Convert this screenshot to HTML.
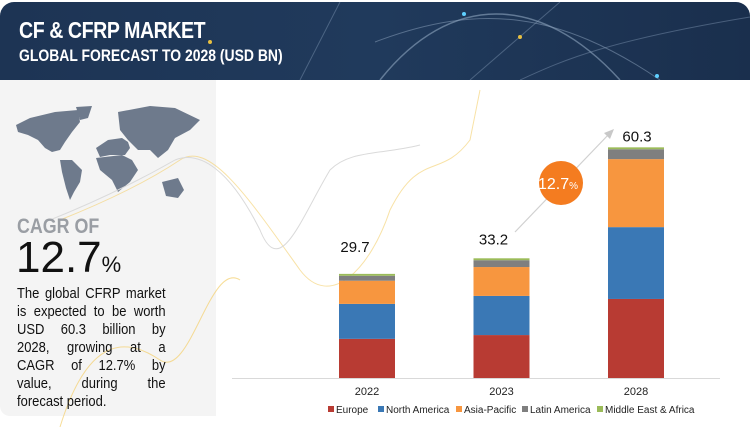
<!DOCTYPE html>
<html><head><meta charset="utf-8">
<style>
body{margin:0;width:750px;height:427px;overflow:hidden;background:#fff;font-family:"Liberation Sans",sans-serif;position:relative}
#hdr{position:absolute;left:0;top:2px;width:750px;height:78px;border-radius:14px 14px 0 0;overflow:hidden;background:linear-gradient(90deg,#1d3454,#203a5c 50%,#1a2f4d)}
.t1{position:absolute;left:19px;top:15px;color:#fff;font-size:23px;font-weight:bold;letter-spacing:-0.5px;transform:scaleX(0.85);transform-origin:left}
.t2{position:absolute;left:19px;top:44px;color:#fff;font-size:17px;font-weight:bold;transform:scaleX(0.82);transform-origin:left}
#panel{position:absolute;left:0;top:80px;width:216px;height:336px;background:#f4f4f4;border-radius:0 0 0 10px}
.cagr{position:absolute;left:17px;top:215px;font-size:21px;font-weight:bold;color:#9a9ea4;transform:scaleX(0.85);transform-origin:left}
.big{position:absolute;left:16px;top:236px;font-size:44px;color:#111;line-height:44px}
.big span{font-size:22px}
.para{position:absolute;left:17px;top:285px;width:166px;font-size:14.5px;line-height:18px;color:#111;transform:scaleX(0.895);transform-origin:left}
.para div{text-align:justify;text-align-last:justify;white-space:nowrap}
.para div.last{text-align-last:left}
</style></head><body>
<div id="hdr">
<svg width="750" height="78" style="position:absolute;left:0;top:0">
<path d="M380 78 C450 -10 540 -10 620 78" stroke="#8fa6c0" stroke-width="1.5" fill="none" opacity="0.6"/>
<path d="M375 40 C480 0 560 10 660 78" stroke="#8fa6c0" stroke-width="1" fill="none" opacity="0.5"/>
<path d="M470 78 L560 0" stroke="#8fa6c0" stroke-width="1" opacity="0.4"/>
<path d="M520 78 C560 60 600 40 750 15" stroke="#8fa6c0" stroke-width="1" fill="none" opacity="0.4"/>
<path d="M300 78 L340 0" stroke="#8fa6c0" stroke-width="1" opacity="0.4"/>
<circle cx="464" cy="12" r="2" fill="#5fd0ff"/><circle cx="520" cy="35" r="2" fill="#e8c040"/><circle cx="657" cy="74" r="2" fill="#5fd0ff"/><circle cx="210" cy="40" r="2" fill="#e8c040"/>
</svg>
<div class="t1">CF &amp; CFRP MARKET</div>
<div class="t2">GLOBAL FORECAST TO 2028 (USD BN)</div>
</div>
<div id="panel"></div>
<svg width="750" height="427" style="position:absolute;left:0;top:0">
<g fill="#6e7a8c">
<path d="M16 125 L30 118 L55 112 L78 110 L80 122 L72 132 L65 142 L60 150 L52 152 L45 148 L38 140 L28 135 L18 132Z"/>
<path d="M60 160 L72 160 L82 170 L80 182 L74 192 L70 200 L66 188 L62 172Z"/>
<path d="M76 107 L92 106 L88 118 L80 120Z"/>
<path d="M96 148 L108 140 L122 138 L128 142 L130 148 L125 155 L110 155 L100 157Z"/>
<path d="M96 158 L122 155 L132 160 L138 170 L130 182 L118 192 L112 180 L100 170Z"/>
<path d="M118 112 L150 106 L175 108 L200 120 L190 130 L175 138 L168 150 L158 158 L150 150 L138 150 L128 140 L120 130Z"/>
<path d="M162 182 L178 178 L184 190 L178 198 L166 196Z"/>
</g>
<path d="M60 427 C90 330 130 340 160 360 C190 380 210 260 240 280" stroke="#f3cf6b" stroke-width="1" fill="none" opacity="0.7"/>
<path d="M60 220 C110 200 150 180 180 160 C210 140 250 200 300 270 C330 310 370 270 390 210 C420 150 440 180 470 140 L480 90" stroke="#f3cf6b" stroke-width="1" fill="none" opacity="0.6"/>
<path d="M50 220 C100 200 140 180 175 160 C200 150 230 170 260 230 C280 280 300 220 330 170 C350 150 380 155 420 145" stroke="#dadada" stroke-width="1" fill="none"/>
</svg>
<div class="cagr">CAGR OF</div>
<div class="big">12.7<span>%</span></div>
<div class="para"><div>The global CFRP market</div><div>is expected to be worth</div><div>USD 60.3 billion by</div><div>2028, growing at a</div><div>CAGR of 12.7% by</div><div>value, during the</div><div class="last">forecast period.</div></div>
<svg id="chart" width="750" height="427" style="position:absolute;left:0;top:0"></svg>
<script>
const categories=["2022","2023","2028"];
const totals=["29.7","33.2","60.3"];
const seriesNames=["Europe","North America","Asia-Pacific","Latin America","Middle East & Africa"];
const europe=[10.3,11.3,20.8];
const northAmerica=[9.2,10.3,18.9];
const asiaPacific=[6.1,7.6,17.9];
const latinAmerica=[1.3,1.8,2.6];
const mea=[0.5,0.5,0.5];
const colors=["#b83b33","#3a78b5","#f7963f","#7f7f7f","#9bbb59"];
const series=[europe,northAmerica,asiaPacific,latinAmerica,mea];
const NS="http://www.w3.org/2000/svg";
const svg=document.getElementById('chart');
const baseY=378, pxPerUnit=3.8, x0=339, step=134.5, bw=56;
const xPos=i=>x0+i*step;
const yScale=v=>baseY-v*pxPerUnit;
function mk(t,a){const e=document.createElementNS(NS,t);for(const k in a)e.setAttribute(k,a[k]);svg.appendChild(e);return e;}
const ax=mk('line',{x1:232,x2:720,y1:baseY+0.5,y2:baseY+0.5,stroke:'#d9d9d9'});


categories.forEach((c,i)=>{
  let acc=0;
  series.forEach((s,j)=>{
    const y1=yScale(acc), y2=yScale(acc+s[i]);
    const r=mk('rect',{x:xPos(i),y:y2,width:bw,height:y1-y2,fill:colors[j]});
    
    
    acc+=s[i];
  });
  const lb=mk('text',{x:xPos(i)+bw/2,y:baseY+17,'text-anchor':'middle','font-size':'11','fill':'#222'});
  lb.textContent=c;
  
  
  const tl=mk('text',{x:xPos(i)+bw/2-(i==0?12:i==1?8:-1),y:yScale(acc)-(i==2?6:i==1?14:22),'text-anchor':'middle','font-size':'15','fill':'#111'});
  tl.textContent=totals[i];
  
  
});
const arr=mk('line',{x1:515,y1:232,x2:610,y2:133,stroke:'#d0d0d0','stroke-width':1.2});


const ah=mk('polygon',{points:'614,129 604,133 610,139',fill:'#c8c8c8'});


const circ=mk('circle',{cx:561,cy:183,r:22,fill:'#f47c20'});


const ct=mk('text',{x:558,y:189,'text-anchor':'middle','font-size':'16','fill':'#fff'});
ct.innerHTML='12.7<tspan font-size="10">%</tspan>';


const lx=[328,378,456,522,597];
seriesNames.forEach((n,j)=>{
  const g=document.createElementNS(NS,'g');svg.appendChild(g);
  
  
  const r=document.createElementNS(NS,'rect');
  r.setAttribute('x',lx[j]);r.setAttribute('y',406);r.setAttribute('width',6);r.setAttribute('height',6);r.setAttribute('fill',colors[j]);g.appendChild(r);
  const t=document.createElementNS(NS,'text');
  t.setAttribute('x',lx[j]+8);t.setAttribute('y',413);t.setAttribute('font-size','10');t.setAttribute('fill','#222');t.textContent=n;g.appendChild(t);
});
</script>
</body></html>
